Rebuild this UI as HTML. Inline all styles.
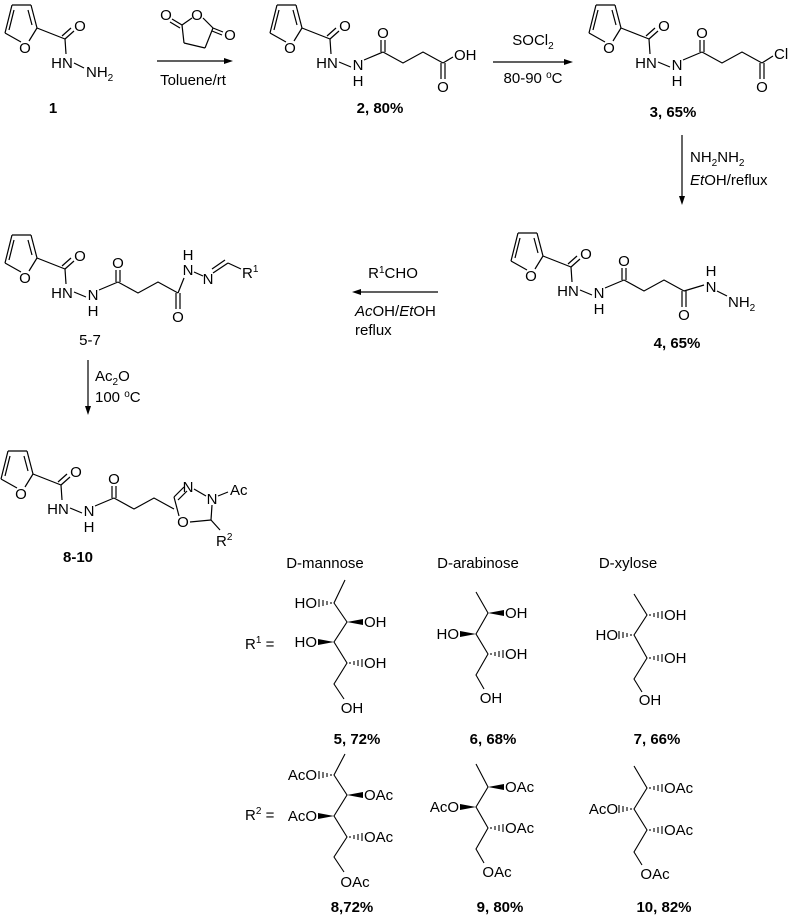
<!DOCTYPE html>
<html><head><meta charset="utf-8"><style>
html,body{margin:0;padding:0;background:#fff;}
svg{display:block;}
text{font-family:"Liberation Sans",sans-serif;font-size:15px;fill:#000;}
.b{font-weight:bold;}
</style></head><body>
<svg width="789" height="915" viewBox="0 0 789 915" xmlns="http://www.w3.org/2000/svg">
<defs>
<g id="fur" stroke="#000" stroke-width="1.2" fill="none">
<line x1="0" y1="0" x2="19" y2="0"/><line x1="19" y1="0" x2="25" y2="23"/>
<line x1="25" y1="23" x2="17" y2="36"/><line x1="9" y1="37" x2="-7" y2="28"/>
<line x1="-7" y1="28" x2="0" y2="0"/>
<line x1="16" y1="5" x2="20" y2="20"/><line x1="-3" y1="25" x2="2" y2="5"/>
<line x1="25" y1="23" x2="53" y2="34"/>
<line x1="53" y1="34" x2="62" y2="26"/><line x1="50" y1="31" x2="59" y2="23"/>
<line x1="53" y1="34" x2="54" y2="49"/>
<text x="13" y="43" text-anchor="middle" dy="5" stroke="none" fill="#000">O</text>
<text x="68" y="21" text-anchor="middle" dy="5" stroke="none" fill="#000">O</text>
<text x="50" y="58" text-anchor="middle" dy="5" stroke="none" fill="#000">HN</text>
</g>
<g id="mid" stroke="#000" stroke-width="1.2" fill="none">
<line x1="62" y1="57" x2="74" y2="62"/>
<text x="81" y="60" text-anchor="middle" dy="5" stroke="none" fill="#000">N</text>
<text x="81" y="76" text-anchor="middle" dy="5" stroke="none" fill="#000">H</text>
<line x1="87" y1="55" x2="106" y2="47"/>
<line x1="104" y1="47" x2="104" y2="35"/><line x1="108" y1="47" x2="108" y2="35"/>
<text x="106" y="28" text-anchor="middle" dy="5" stroke="none" fill="#000">O</text>
<polyline points="106,47 126,58 146,47 166,58"/>
</g>
<g id="end" stroke="#000" stroke-width="1.2" fill="none">
<line x1="164" y1="58" x2="164" y2="74"/><line x1="168" y1="58" x2="168" y2="74"/>
<text x="166" y="82" text-anchor="middle" dy="5" stroke="none" fill="#000">O</text>
</g>
</defs>

<!-- compound 1 -->
<g transform="translate(12,5)">
<use href="#fur"/>
<line x1="62" y1="58" x2="72" y2="63" stroke="#000" stroke-width="1.2"/>
<text x="74" y="72">NH<tspan font-size="10" dy="4">2</tspan></text>
</g>
<text x="53" y="113" class="b" text-anchor="middle">1</text>

<!-- arrow 1 + anhydride -->
<line x1="157" y1="61" x2="226" y2="61" stroke="#000" stroke-width="1.2"/>
<polygon points="233,61 224,58 224,64" fill="#000"/>
<g stroke="#000" stroke-width="1.2" fill="none">
<line x1="182" y1="25" x2="192" y2="18"/><line x1="203" y1="18" x2="213" y2="28"/>
<line x1="213" y1="28" x2="205" y2="48"/><line x1="205" y1="48" x2="184" y2="43"/><line x1="184" y1="43" x2="182" y2="25"/>
<line x1="182" y1="25" x2="172" y2="19"/><line x1="180" y1="28" x2="170" y2="22"/>
<line x1="213" y1="28" x2="223" y2="32"/><line x1="212" y1="31" x2="222" y2="35"/>
</g>
<text x="166" y="20" text-anchor="middle">O</text>
<text x="197" y="20" text-anchor="middle">O</text>
<text x="230" y="40" text-anchor="middle">O</text>
<text x="193" y="85" text-anchor="middle">Toluene/rt</text>

<!-- compound 2 -->
<g transform="translate(277,5)">
<use href="#fur"/><use href="#mid"/><use href="#end"/>
<line x1="166" y1="58" x2="176" y2="52" stroke="#000" stroke-width="1.2"/>
<text x="177" y="55">OH</text>
</g>
<text x="380" y="113" class="b" text-anchor="middle">2, 80%</text>

<!-- arrow 2 -->
<line x1="493" y1="62" x2="566" y2="62" stroke="#000" stroke-width="1.2"/>
<polygon points="573,62 564,59 564,65" fill="#000"/>
<text x="533" y="45" text-anchor="middle">SOCl<tspan font-size="10" dy="4">2</tspan></text>
<text x="533" y="83" text-anchor="middle">80-90 <tspan font-size="10" dy="-5">o</tspan><tspan dy="5">C</tspan></text>

<!-- compound 3 -->
<g transform="translate(596,5)">
<use href="#fur"/><use href="#mid"/><use href="#end"/>
<line x1="166" y1="58" x2="177" y2="51" stroke="#000" stroke-width="1.2"/>
<text x="178" y="54">Cl</text>
</g>
<text x="673" y="117" class="b" text-anchor="middle">3, 65%</text>

<!-- arrow 3 -->
<line x1="682" y1="135" x2="682" y2="198" stroke="#000" stroke-width="1.2"/>
<polygon points="682,205 679,196 685,196" fill="#000"/>
<text x="690" y="162">NH<tspan font-size="10" dy="4">2</tspan><tspan dy="-4">NH</tspan><tspan font-size="10" dy="4">2</tspan></text>
<text x="690" y="185"><tspan font-style="italic">Et</tspan>OH/reflux</text>

<!-- compound 4 -->
<g transform="translate(518,233)">
<use href="#fur"/><use href="#mid"/><use href="#end"/>
<line x1="166" y1="58" x2="186" y2="52" stroke="#000" stroke-width="1.2"/>
<text x="193" y="54" text-anchor="middle" dy="5">N</text>
<text x="193" y="38" text-anchor="middle" dy="5">H</text>
<line x1="199" y1="58" x2="209" y2="63" stroke="#000" stroke-width="1.2"/>
<text x="210" y="74">NH<tspan font-size="10" dy="4">2</tspan></text>
</g>
<text x="677" y="348" class="b" text-anchor="middle">4, 65%</text>

<!-- arrow 4 -->
<line x1="438" y1="292" x2="359" y2="292" stroke="#000" stroke-width="1.2"/>
<polygon points="352,292 361,289 361,295" fill="#000"/>
<text x="393" y="278" text-anchor="middle">R<tspan font-size="10" dy="-5">1</tspan><tspan dy="5">CHO</tspan></text>
<text x="355" y="316"><tspan font-style="italic">Ac</tspan>OH/<tspan font-style="italic">Et</tspan>OH</text>
<text x="355" y="335">reflux</text>

<!-- compound 5-7 -->
<g transform="translate(12,235)">
<use href="#fur"/><use href="#mid"/><use href="#end"/>
<line x1="166" y1="58" x2="172" y2="43" stroke="#000" stroke-width="1.2"/>
<text x="176" y="35" text-anchor="middle" dy="5">N</text>
<text x="176" y="20" text-anchor="middle" dy="5">H</text>
<line x1="182" y1="37" x2="191" y2="41" stroke="#000" stroke-width="1.2"/>
<text x="196" y="44" text-anchor="middle" dy="5">N</text>
<line x1="201" y1="38" x2="216" y2="28" stroke="#000" stroke-width="1.2"/>
<line x1="200" y1="34" x2="213" y2="25" stroke="#000" stroke-width="1.2"/>
<line x1="216" y1="28" x2="229" y2="34" stroke="#000" stroke-width="1.2"/>
<text x="230" y="43">R<tspan font-size="10" dy="-6">1</tspan></text>
</g>
<text x="90" y="345" text-anchor="middle">5-7</text>

<!-- arrow 5 -->
<line x1="88" y1="360" x2="88" y2="408" stroke="#000" stroke-width="1.2"/>
<polygon points="88,415 85,406 91,406" fill="#000"/>
<text x="95" y="381">Ac<tspan font-size="10" dy="4">2</tspan><tspan dy="-4">O</tspan></text>
<text x="95" y="402">100 <tspan font-size="10" dy="-5">o</tspan><tspan dy="5">C</tspan></text>

<!-- compound 8-10 -->
<g transform="translate(8,451)">
<use href="#fur"/><use href="#mid"/>
</g>
<g stroke="#000" stroke-width="1.2" fill="none">
<line x1="174" y1="497" x2="184" y2="487"/><line x1="178" y1="500" x2="187" y2="491"/>
<line x1="194" y1="489" x2="206" y2="496"/>
<line x1="212" y1="505" x2="211" y2="520"/>
<line x1="211" y1="520" x2="190" y2="522"/>
<line x1="179" y1="516" x2="174" y2="497"/>
<line x1="218" y1="496" x2="228" y2="492"/>
<line x1="211" y1="520" x2="220" y2="530"/>
</g>
<text x="188" y="487" text-anchor="middle" dy="5">N</text>
<text x="212" y="499" text-anchor="middle" dy="5">N</text>
<text x="183" y="522" text-anchor="middle" dy="5">O</text>
<text x="230" y="495">Ac</text>
<text x="216" y="546">R<tspan font-size="10" dy="-6">2</tspan></text>
<text x="78" y="562" class="b" text-anchor="middle">8-10</text>

<!-- sugar titles -->
<text x="325" y="568" text-anchor="middle">D-mannose</text>
<text x="478" y="568" text-anchor="middle">D-arabinose</text>
<text x="628" y="568" text-anchor="middle">D-xylose</text>
<text x="245" y="649">R<tspan font-size="10" dy="-6">1</tspan><tspan dy="6"> =</tspan></text>
<text x="245" y="820">R<tspan font-size="10" dy="-6">2</tspan><tspan dy="6"> =</tspan></text>

<g stroke="#000" stroke-width="1.1" fill="none">
<polyline points="345,580 334,603 347,622 334,642 347,663 334,684 344,699"/>
<path d="M331,602v2M327,601v4M323,600v6M319,599v8"/>
<path d="M350,662v2M354,661v4M358,660v6M362,659v8"/>
<polyline points="476,592 488,613 476,634 488,654 476,675 484,689"/>
<path d="M491,653v2M495,652v4M499,651v6M503,650v8"/>
<polyline points="634,594 647,615 634,635 647,658 634,679 642,692"/>
<path d="M650,614v2M654,613v4M658,612v6M662,611v8"/>
<path d="M631,634v2M627,633v4M623,632v6M619,631v8"/>
<path d="M650,657v2M654,656v4M658,655v6M662,654v8"/>
<polyline points="345,754 334,775 347,795 334,816 347,837 334,857 344,872"/>
<path d="M331,774v2M327,773v4M323,772v6M319,771v8"/>
<path d="M350,836v2M354,835v4M358,834v6M362,833v8"/>
<polyline points="476,764 488,787 476,807 488,828 476,849 484,863"/>
<path d="M491,827v2M495,826v4M499,825v6M503,824v8"/>
<polyline points="634,766 647,788 634,809 647,830 634,852 642,865"/>
<path d="M650,787v2M654,786v4M658,785v6M662,784v8"/>
<path d="M631,808v2M627,807v4M623,806v6M619,805v8"/>
<path d="M650,829v2M654,828v4M658,827v6M662,826v8"/>
</g>
<g fill="#000">
<polygon points="347,622 363,619 363,625"/>
<polygon points="334,642 318,639 318,645"/>
<polygon points="488,613 504,610 504,616"/>
<polygon points="476,634 460,631 460,637"/>
<polygon points="347,795 363,792 363,798"/>
<polygon points="334,816 318,813 318,819"/>
<polygon points="488,787 504,784 504,790"/>
<polygon points="476,807 460,804 460,810"/>
</g>
<g>
<text x="317" y="608" text-anchor="end">HO</text>
<text x="364" y="627">OH</text>
<text x="317" y="647" text-anchor="end">HO</text>
<text x="364" y="668">OH</text>
<text x="352" y="713" text-anchor="middle">OH</text>
<text x="505" y="618">OH</text>
<text x="459" y="639" text-anchor="end">HO</text>
<text x="505" y="659">OH</text>
<text x="491" y="703" text-anchor="middle">OH</text>
<text x="664" y="620">OH</text>
<text x="618" y="640" text-anchor="end">HO</text>
<text x="664" y="663">OH</text>
<text x="650" y="705" text-anchor="middle">OH</text>

<text x="317" y="780" text-anchor="end">AcO</text>
<text x="364" y="800">OAc</text>
<text x="317" y="821" text-anchor="end">AcO</text>
<text x="364" y="842">OAc</text>
<text x="355" y="887" text-anchor="middle">OAc</text>
<text x="505" y="792">OAc</text>
<text x="459" y="812" text-anchor="end">AcO</text>
<text x="505" y="833">OAc</text>
<text x="497" y="877" text-anchor="middle">OAc</text>
<text x="664" y="793">OAc</text>
<text x="618" y="814" text-anchor="end">AcO</text>
<text x="664" y="835">OAc</text>
<text x="655" y="879" text-anchor="middle">OAc</text>
</g>
<text x="357" y="744" class="b" text-anchor="middle">5, 72%</text>
<text x="493" y="744" class="b" text-anchor="middle">6, 68%</text>
<text x="657" y="744" class="b" text-anchor="middle">7, 66%</text>
<text x="352" y="912" class="b" text-anchor="middle">8,72%</text>
<text x="500" y="912" class="b" text-anchor="middle">9, 80%</text>
<text x="664" y="912" class="b" text-anchor="middle">10, 82%</text>
</svg>
</body></html>
